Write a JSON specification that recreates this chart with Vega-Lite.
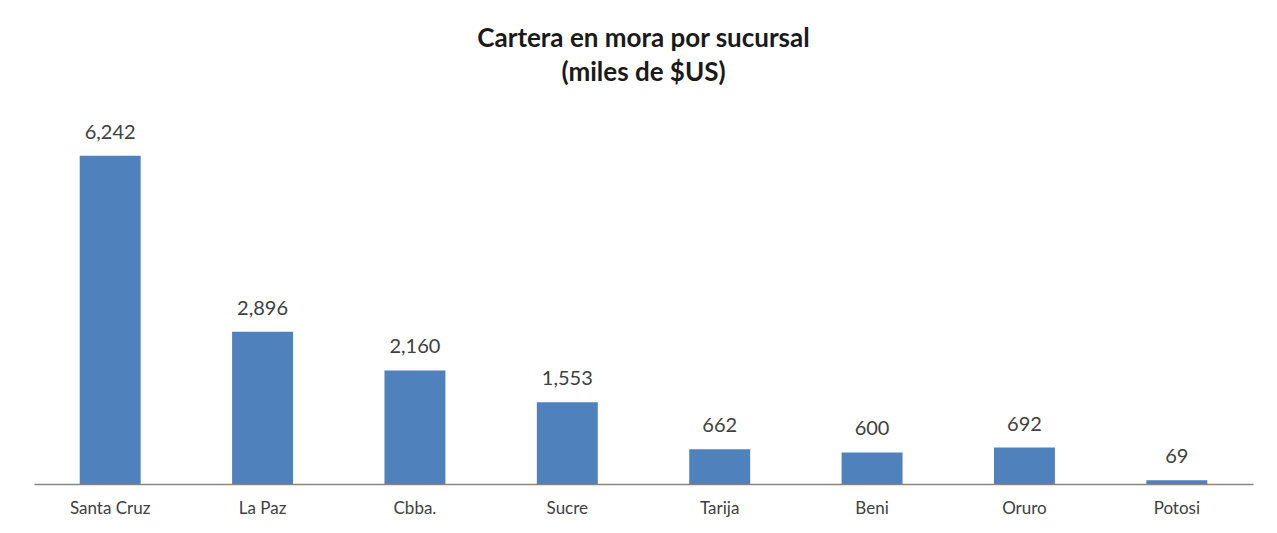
{
  "$schema": "https://vega.github.io/schema/vega-lite/v6.json",
  "autosize": {"type": "none"},
  "padding": {"left": 34, "top": 116, "right": 24, "bottom": 49},
  "width": 1219,
  "height": 368,
  "background": "white",
  "title": {
    "text": ["Cartera en mora por sucursal", "(miles de $US)"],
    "font": "Lato",
    "fontSize": 26,
    "fontWeight": "bold",
    "color": "#1a1a1a",
    "lineHeight": 34,
    "anchor": "middle",
    "offset": 30
  },
  "data": {
    "values": [
      {"sucursal": "Santa Cruz", "valor": 6242},
      {"sucursal": "La Paz", "valor": 2896},
      {"sucursal": "Cbba.", "valor": 2160},
      {"sucursal": "Sucre", "valor": 1553},
      {"sucursal": "Tarija", "valor": 662},
      {"sucursal": "Beni", "valor": 600},
      {"sucursal": "Oruro", "valor": 692},
      {"sucursal": "Potosi", "valor": 69}
    ]
  },
  "encoding": {
    "x": {
      "field": "sucursal",
      "type": "nominal",
      "sort": null,
      "scale": {"paddingInner": 0.6, "paddingOuter": 0.3},
      "axis": {
        "title": null,
        "labelAngle": 0,
        "ticks": false,
        "domainColor": "#868686",
        "domainWidth": 1.5,
        "labelFont": "Lato",
        "labelFontSize": 17,
        "labelColor": "#404040",
        "labelPadding": 16
      }
    },
    "y": {
      "field": "valor",
      "type": "quantitative",
      "scale": {"domain": [0, 7000]},
      "axis": null
    }
  },
  "layer": [
    {"mark": {"type": "bar", "color": "#4F81BD"}},
    {
      "mark": {"type": "text", "baseline": "alphabetic", "dy": -17, "font": "Lato", "fontSize": 20, "color": "#404040"},
      "encoding": {"text": {"field": "valor", "type": "quantitative", "format": ","}}
    }
  ],
  "config": {"view": {"stroke": null}}
}
